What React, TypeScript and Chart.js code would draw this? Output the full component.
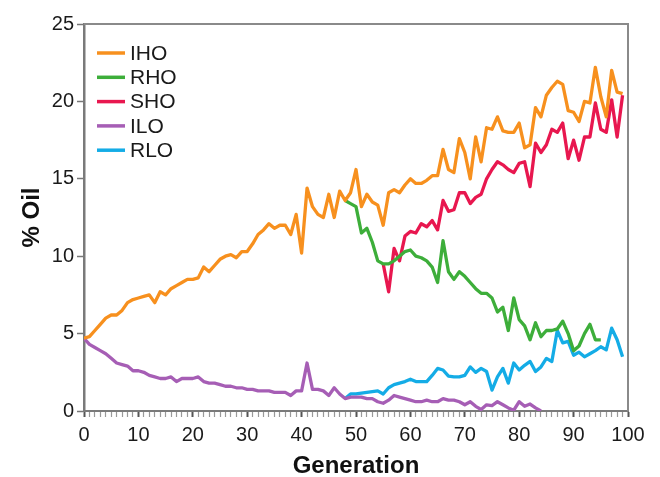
import React, { useEffect, useRef } from 'react';
import { Chart, registerables } from 'chart.js';

Chart.register(...registerables);

const generations = [
  0, 1, 2, 3, 4, 5, 6, 7, 8, 9, 10, 11, 12, 13, 14, 15, 16, 17, 18, 19,
  20, 21, 22, 23, 24, 25, 26, 27, 28, 29, 30, 31, 32, 33, 34, 35, 36, 37, 38, 39,
  40, 41, 42, 43, 44, 45, 46, 47, 48, 49, 50, 51, 52, 53, 54, 55, 56, 57, 58, 59,
  60, 61, 62, 63, 64, 65, 66, 67, 68, 69, 70, 71, 72, 73, 74, 75, 76, 77, 78, 79,
  80, 81, 82, 83, 84, 85, 86, 87, 88, 89, 90, 91, 92, 93, 94, 95, 96, 97, 98, 99,
];

const IHO = [
  4.7, 4.8, 5.2, 5.6, 6.0, 6.2, 6.2, 6.5, 7.0, 7.2,
  7.3, 7.4, 7.5, 7.0, 7.7, 7.5, 7.9, 8.1, 8.3, 8.5,
  8.5, 8.6, 9.3, 9.0, 9.4, 9.8, 10.0, 10.1, 9.9, 10.3,
  10.3, 10.8, 11.4, 11.7, 12.1, 11.8, 12.0, 12.0, 11.4, 12.7,
  10.2, 14.4, 13.2, 12.7, 12.5, 14.0, 12.5, 14.2, 13.6, 14.1,
  15.6, 13.2, 14.0, 13.5, 13.3, 12.0, 14.1, 14.3, 14.1, 14.6,
  15.0, 14.7, 14.7, 14.9, 15.2, 15.2, 16.9, 15.6, 15.4, 17.6,
  16.7, 15.0, 17.7, 16.1, 18.3, 18.2, 19.0, 18.1, 18.0, 18.0,
  18.6, 17.0, 17.2, 19.6, 19.0, 20.4, 20.9, 21.3, 21.1, 19.4,
  19.3, 18.7, 20.0, 19.9, 22.2, 20.3, 19.0, 22.0, 20.6, 20.5,
];

const RHO = [
  null, null, null, null, null, null, null, null, null, null,
  null, null, null, null, null, null, null, null, null, null,
  null, null, null, null, null, null, null, null, null, null,
  null, null, null, null, null, null, null, null, null, null,
  null, null, null, null, null, null, null, null, 13.6, 13.4,
  13.2, 11.5, 11.8, 10.9, 9.7, 9.5, 9.5, 9.7, 10.0, 10.3,
  10.4, 10.0, 9.9, 9.7, 9.3, 8.3, 11.0, 9.0, 8.5, 9.0,
  8.7, 8.3, 7.9, 7.6, 7.6, 7.3, 6.4, 6.7, 5.2, 7.3,
  5.9, 5.5, 4.6, 5.7, 4.8, 5.2, 5.2, 5.3, 5.8, 5.0,
  3.9, 4.2, 5.0, 5.6, 4.6, 4.6, null, null, null, null,
];

const SHO = [
  null, null, null, null, null, null, null, null, null, null,
  null, null, null, null, null, null, null, null, null, null,
  null, null, null, null, null, null, null, null, null, null,
  null, null, null, null, null, null, null, null, null, null,
  null, null, null, null, null, null, null, null, null, null,
  null, null, null, null, null, 9.5, 7.7, 10.5, 9.7, 11.3,
  11.6, 11.5, 12.1, 11.9, 12.3, 11.7, 13.6, 12.9, 13.0, 14.1,
  14.1, 13.4, 13.8, 14.0, 15.0, 15.6, 16.1, 15.9, 15.6, 15.4,
  16.0, 16.1, 14.5, 17.3, 16.7, 17.2, 18.2, 18.0, 18.6, 16.3,
  17.5, 16.2, 17.7, 17.7, 19.9, 18.2, 18.0, 20.1, 17.7, 20.4,
];

const ILO = [
  4.7, 4.3, 4.1, 3.9, 3.7, 3.4, 3.1, 3.0, 2.9, 2.6,
  2.6, 2.5, 2.3, 2.2, 2.1, 2.1, 2.2, 1.9, 2.1, 2.1,
  2.1, 2.2, 1.9, 1.8, 1.8, 1.7, 1.6, 1.6, 1.5, 1.5,
  1.4, 1.4, 1.3, 1.3, 1.3, 1.2, 1.2, 1.2, 1.0, 1.3,
  1.3, 3.1, 1.4, 1.4, 1.3, 1.0, 1.5, 1.1, 0.8, 0.9,
  0.9, 0.9, 0.8, 0.8, 0.6, 0.5, 0.7, 1.0, 0.9, 0.8,
  0.7, 0.6, 0.6, 0.7, 0.6, 0.6, 0.8, 0.7, 0.7, 0.6,
  0.4, 0.6, 0.3, 0.1, 0.4, 0.35, 0.6, 0.4, 0.2, 0.05,
  0.6, 0.3, 0.45, 0.2, 0.0, null, null, null, null, null,
  null, null, null, null, null, null, null, null, null, null,
];

const RLO = [
  null, null, null, null, null, null, null, null, null, null,
  null, null, null, null, null, null, null, null, null, null,
  null, null, null, null, null, null, null, null, null, null,
  null, null, null, null, null, null, null, null, null, null,
  null, null, null, null, null, null, null, null, 0.8, 1.1,
  1.1, 1.15, 1.2, 1.25, 1.3, 1.1, 1.5, 1.7, 1.8, 1.9,
  2.05, 1.9, 1.9, 1.9, 2.3, 2.75, 2.65, 2.25, 2.2, 2.2,
  2.3, 2.85, 2.5, 2.75, 2.55, 1.35, 2.2, 2.75, 1.8, 3.1,
  2.65, 2.95, 3.2, 2.55, 2.85, 3.4, 3.2, 5.2, 4.4, 4.5,
  3.6, 3.8, 3.5, 3.7, 3.9, 4.15, 3.95, 5.35, 4.6, 3.5,
];

const seriesNames = ['IHO', 'RHO', 'SHO', 'ILO', 'RLO'];
const seriesColors = ['#F7901E', '#3DAE3A', '#E8174F', '#A65EB5', '#14ACE6'];
const seriesValues = [IHO, RHO, SHO, ILO, RLO];

const xTickLabels = ['0', '10', '20', '30', '40', '50', '60', '70', '80', '90', '100'];
const yTickValues = [0, 5, 10, 15, 20, 25];

const FONT = "'Liberation Sans', Arial, Helvetica, sans-serif";

const framePlugin = {
  id: 'frame',
  afterDatasetsDraw(chart: any) {
    const { ctx, chartArea } = chart;
    ctx.save();
    ctx.strokeStyle = '#8a8a8a';
    ctx.lineWidth = 2;
    ctx.beginPath();
    ctx.moveTo(chartArea.left, chartArea.top);
    ctx.lineTo(chartArea.right, chartArea.top);
    ctx.lineTo(chartArea.right, chartArea.bottom);
    ctx.stroke();
    ctx.restore();
  },
};

const legendPlugin = {
  id: 'insideLegend',
  afterDatasetsDraw(chart: any) {
    const { ctx, chartArea } = chart;
    ctx.save();
    const x0 = chartArea.left + 13;
    const y0 = chartArea.top + 29;
    const step = 24.3;
    chart.data.datasets.forEach((ds: any, i: number) => {
      const y = y0 + i * step;
      ctx.strokeStyle = ds.borderColor;
      ctx.lineWidth = 3.5;
      ctx.beginPath();
      ctx.moveTo(x0, y);
      ctx.lineTo(x0 + 28, y);
      ctx.stroke();
      ctx.fillStyle = '#1a1a1a';
      ctx.font = `21px ${FONT}`;
      ctx.textBaseline = 'middle';
      ctx.textAlign = 'left';
      ctx.fillText(ds.label, x0 + 33, y + 1);
    });
    ctx.restore();
  },
};

export default function App() {
  const canvasRef = useRef<HTMLCanvasElement | null>(null);

  useEffect(() => {
    document.body.style.margin = '0';
    const canvas = canvasRef.current;
    if (!canvas) return;

    const datasets = seriesNames.map((name, si) => {
      const vals = seriesValues[si];
      const pts: { x: number; y: number }[] = [];
      vals.forEach((v, i) => {
        if (v !== null && v !== undefined) pts.push({ x: generations[i], y: v as number });
      });
      return {
        label: name,
        data: pts,
        borderColor: seriesColors[si],
        backgroundColor: seriesColors[si],
        borderWidth: 3.3,
        pointRadius: 0,
        tension: 0,
        fill: false,
        borderJoinStyle: 'round' as const,
      };
    });

    const chart = new Chart(canvas, {
      type: 'line',
      data: { datasets },
      options: {
        responsive: false,
        animation: false,
        layout: { padding: { top: 24, right: 32, left: 0, bottom: 0 } },
        plugins: {
          legend: { display: false },
          tooltip: { enabled: false },
        },
        scales: {
          x: {
            type: 'linear',
            min: 0,
            max: 100,
            ticks: {
              stepSize: 1,
              autoSkip: false,
              maxTicksLimit: 200,
              maxRotation: 0,
              minRotation: 0,
              padding: 6,
              color: '#1a1a1a',
              font: { family: FONT, size: 20 },
              callback: (v: any) => {
                const n = Number(v);
                if (n % 10 === 0) return xTickLabels[n / 10];
                return '';
              },
            },
            grid: {
              drawOnChartArea: false,
              drawTicks: true,
              tickLength: 6,
              tickColor: (c: any) => (c.tick && c.tick.value % 10 === 0 ? '#555' : '#999'),
              tickWidth: (c: any) => (c.tick && c.tick.value % 10 === 0 ? 2 : 1.2),
            },
            border: { display: true, color: '#7a7a7a', width: 2 },
            title: {
              display: true,
              text: 'Generation',
              color: '#111',
              font: { family: FONT, size: 24, weight: 'bold' },
              padding: { top: 0, bottom: -4 },
            },
            afterFit: (s: any) => {
              s.height = 66;
            },
          },
          y: {
            type: 'linear',
            min: 0,
            max: 25,
            afterBuildTicks: (s: any) => {
              s.ticks = yTickValues.map((v) => ({ value: v }));
            },
            ticks: {
              stepSize: 5,
              padding: 3,
              color: '#1a1a1a',
              font: { family: FONT, size: 20 },
            },
            grid: {
              drawOnChartArea: false,
              drawTicks: true,
              tickLength: 7,
              tickColor: '#777',
              tickWidth: 1.5,
            },
            border: { display: true, color: '#7a7a7a', width: 2.5 },
            title: {
              display: true,
              text: '% Oil',
              color: '#111',
              font: { family: FONT, size: 24, weight: 'bold' },
              padding: { top: 18, bottom: 0 },
            },
            afterFit: (s: any) => {
              s.width = 84;
            },
          },
        },
      },
      plugins: [framePlugin, legendPlugin],
    });

    return () => {
      chart.destroy();
    };
  }, []);

  return (
    <div style={{ width: 660, height: 477, background: '#fff' }}>
      <canvas ref={canvasRef} width={660} height={477} />
    </div>
  );
}
